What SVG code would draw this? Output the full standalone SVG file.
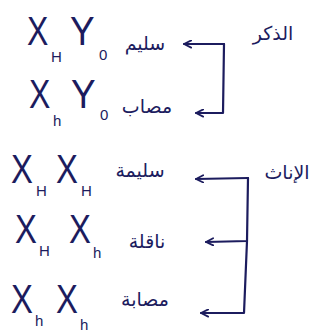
<svg xmlns="http://www.w3.org/2000/svg" width="326" height="335" viewBox="0 0 326 335">
<defs>
<style>
.g{font-family:"Liberation Sans","DejaVu Sans",sans-serif;fill:#1c1c5e;font-size:41px}
.s{font-family:"Liberation Sans","DejaVu Sans",sans-serif;fill:#1c1c5e;font-size:15px}
.a{font-family:"DejaVu Sans",sans-serif;fill:#1c1c5e;font-size:19px}
.c{fill:none;stroke:#1c1c5e;stroke-width:2.2;stroke-linecap:round;stroke-linejoin:round}
</style>
<marker id="ah" viewBox="0 0 10 10" refX="9" refY="5" markerWidth="9" markerHeight="9" orient="auto" markerUnits="userSpaceOnUse">
<path d="M1,1 L9,5 L1,9" fill="none" stroke="#1c1c5e" stroke-width="2" stroke-linecap="round" stroke-linejoin="round"/>
</marker>
</defs>
<rect width="326" height="335" fill="#ffffff"/>
<g id="male-label"><text class="a" x="273" y="40" text-anchor="middle" direction="rtl" font-size="21">الذكر</text></g>
<g id="male-healthy">
<text class="g" transform="translate(27,45) scale(0.78,1)">X</text><text class="s" x="51" y="62">H</text>
<text class="g" transform="translate(70,45) scale(0.9,1)">Y</text><text class="s" x="99" y="60">0</text>
<text class="a" x="145" y="50" text-anchor="middle" direction="rtl">سليم</text>
</g>
<g id="male-affected">
<text class="g" transform="translate(29,108) scale(0.78,1)">X</text><text class="s" x="53" y="126">h</text>
<text class="g" transform="translate(71,108) scale(0.9,1)">Y</text><text class="s" x="100" y="120">0</text>
<text class="a" x="147" y="113" text-anchor="middle" direction="rtl">مصاب</text>
</g>
<g id="female-label"><text class="a" x="287" y="179" text-anchor="middle" direction="rtl">الإناث</text></g>
<g id="female-healthy">
<text class="g" transform="translate(11,183) scale(0.8,1)">X</text><text class="s" x="36" y="196">H</text>
<text class="g" transform="translate(56,183) scale(0.8,1)">X</text><text class="s" x="81" y="196">H</text>
<text class="a" x="140" y="177" text-anchor="middle" direction="rtl">سليمة</text>
</g>
<g id="female-carrier">
<text class="g" transform="translate(15,243) scale(0.8,1)">X</text><text class="s" x="39" y="256">H</text>
<text class="g" transform="translate(69,243) scale(0.8,1)">X</text><text class="s" x="93" y="258">h</text>
<text class="a" x="147" y="248" text-anchor="middle" direction="rtl">ناقلة</text>
</g>
<g id="female-affected">
<text class="g" transform="translate(11,313) scale(0.8,1)">X</text><text class="s" x="35" y="326">h</text>
<text class="g" transform="translate(56,313) scale(0.8,1)">X</text><text class="s" x="80" y="330">h</text>
<text class="a" x="145" y="306" text-anchor="middle" direction="rtl">مصابة</text>
</g>
<g id="connectors">
<path class="c" d="M224,44 L184,44" marker-end="url(#ah)"/>
<path class="c" d="M224,44 L223,113 L196,113" marker-end="url(#ah)"/>
<path class="c" d="M248,178 L196,179" marker-end="url(#ah)"/>
<path class="c" d="M248,178 L247,241 L206,242" marker-end="url(#ah)"/>
<path class="c" d="M247,241 L244,313 L201,313" marker-end="url(#ah)"/>
</g>
</svg>
